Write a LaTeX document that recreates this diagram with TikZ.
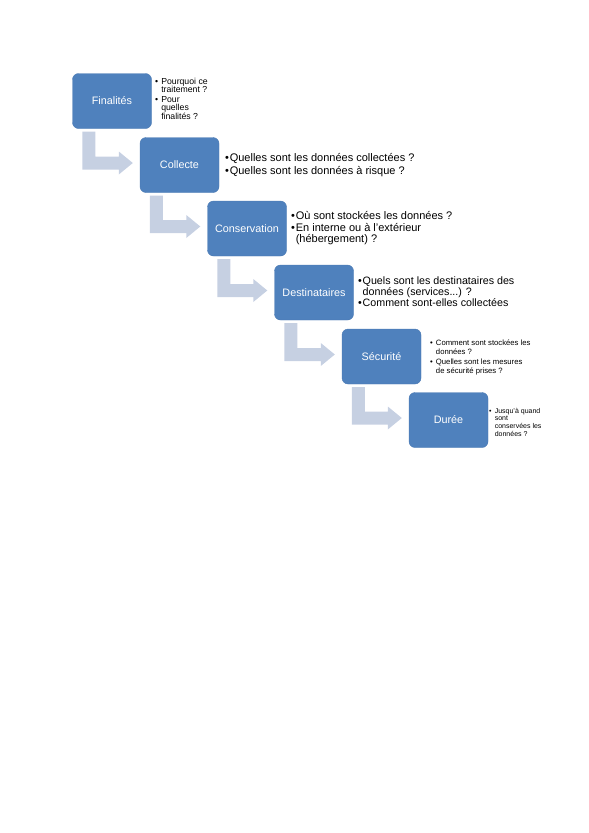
\documentclass[tikz,border=0pt]{standalone}
\usepackage{fontspec}
\setmainfont{Liberation Sans}
\usetikzlibrary{calc}
\definecolor{boxblue}{HTML}{4F81BD}
\definecolor{boxedge}{HTML}{4A79B3}
\definecolor{arrowc}{HTML}{C6D0E2}
\newcommand\bitem[1][0.42em]{\makebox[#1][l]{•}}
\newcommand\bcont[1][0.42em]{\hspace*{#1}}
\begin{document}
\begin{tikzpicture}[x=1pt,y=-1pt,
  box/.style={rectangle, rounded corners=6pt, fill=boxblue, draw=boxedge, line width=0.4pt,
    minimum width=79pt, minimum height=55pt, inner sep=0pt, text=white,
    font=\fontsize{10.8}{12}\selectfont},
  note/.style={anchor=north west, align=left, inner sep=0pt, text=black},
  arr/.style={fill=arrowc}]
\useasboundingbox (0,0) rectangle (589,833);

\node[box] (b1) at (112,101) {Finalités};
\node[box] (b2) at (179.5,165) {Collecte};
\node[box] (b3) at (247,228.5) {Conservation};
\node[box] (b4) at (314,292.5) {Destinataires};
\node[box] (b5) at (381.5,356.5) {Sécurité};
\node[box] (b6) at (448.5,420) {Durée};

\foreach \i/\j in {b1/b2,b2/b3,b3/b4,b4/b5,b5/b6}{
  \fill[arr] let \p1=(\i.south west), \p2=(\j.west) in
    (\x1+10pt,\y1-3pt) -- (\x1+23pt,\y1-3pt) -- (\x1+23pt,\y2+8.5pt)
    -- (\x2-21pt,\y2+8.5pt) -- (\x2-21pt,\y2+13.5pt) -- (\x2-7pt,\y2+2pt)
    -- (\x2-21pt,\y2-9.5pt) -- (\x2-21pt,\y2-4.5pt) -- (\x1+10pt,\y2-4.5pt) -- cycle;
}

\node[note, font=\fontsize{8.7}{8.3}\selectfont] (t1) at (155,77.5)
  {\bitem[0.7em]Pourquoi ce\\ \bcont[0.7em]traitement ?\\[2pt]
   \bitem[0.7em]Pour\\ \bcont[0.7em]quelles\\ \bcont[0.7em]finalités ?};
\node[note, font=\fontsize{11}{13}\selectfont] (t2) at (225,153)
  {\bitem Quelles sont les données collectées ?\\
   \bitem Quelles sont les données à risque ?};
\node[note, font=\fontsize{11}{11}\selectfont] (t3) at (291,211)
  {\bitem Où sont stockées les données ?\\[1pt]
   \bitem En interne ou à l'extérieur\\ \bcont(hébergement) ?};
\node[note, font=\fontsize{10.7}{11}\selectfont] (t4) at (358,277)
  {\bitem Quels sont les destinataires des\\ \bcont données (services...) ?\\
   \bitem Comment sont-elles collectées};
\node[note, font=\fontsize{7.7}{8.5}\selectfont] (t5) at (430,340)
  {\bitem[0.75em]Comment sont stockées les\\ \bcont[0.75em]données ?\\[2pt]
   \bitem[0.75em]Quelles sont les mesures\\ \bcont[0.75em]de sécurité prises ?};
\node[note, font=\fontsize{7}{7.6}\selectfont] (t6) at (489,408)
  {\bitem[0.8em]Jusqu'à quand\\ \bcont[0.8em]sont\\ \bcont[0.8em]conservées les\\ \bcont[0.8em]données ?};
\end{tikzpicture}
\end{document}
